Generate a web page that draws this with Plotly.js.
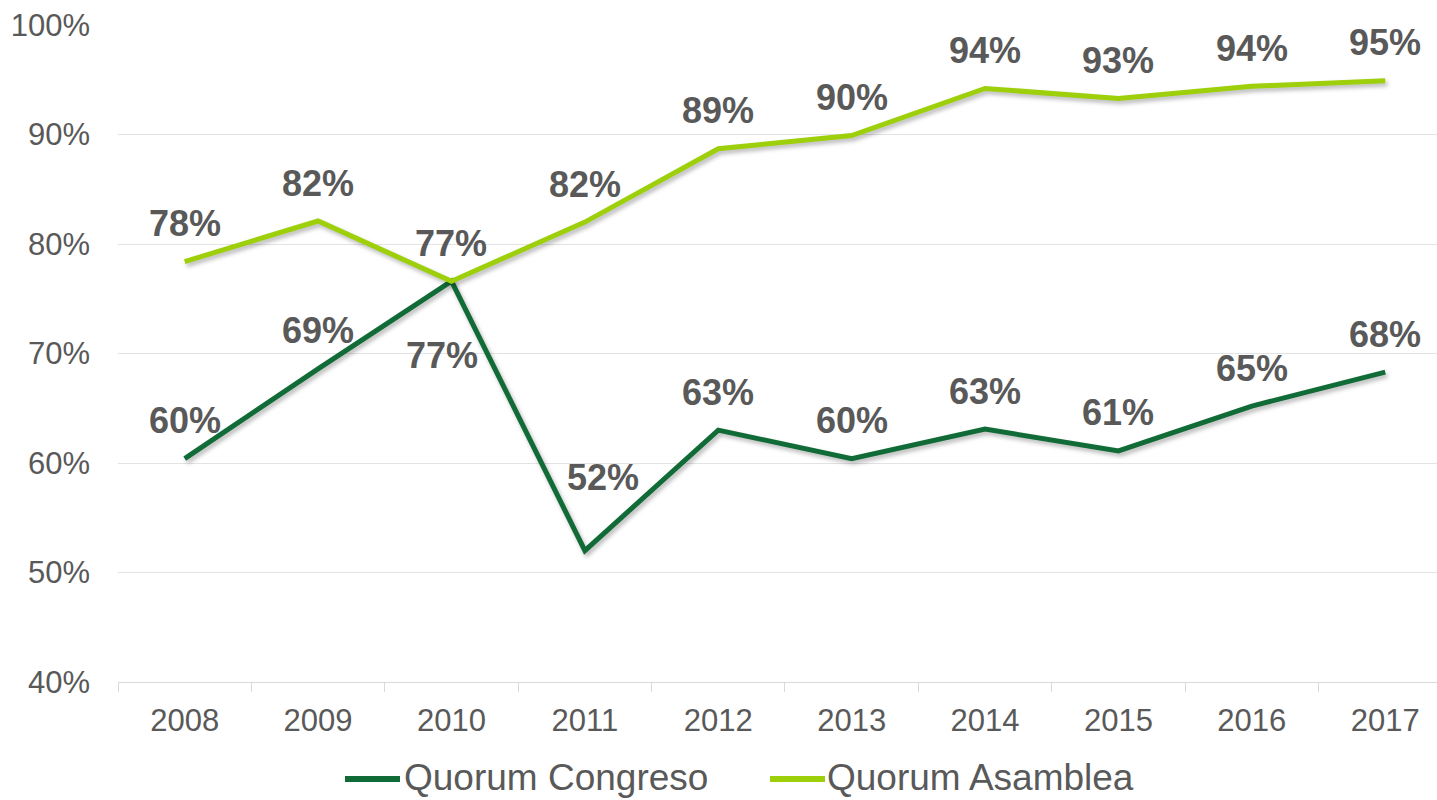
<!DOCTYPE html>
<html>
<head>
<meta charset="utf-8">
<script src="https://cdn.plot.ly/plotly-3.0.1.min.js"></script>
<style>
html,body{margin:0;padding:0;background:#fff;}
#chart{width:1437px;height:800px;}
#chart .scatterlayer .js-line{filter:drop-shadow(2px 3px 2px rgba(0,0,0,0.28));}
</style>
</head>
<body>
<div id="chart"></div>
<script>
var years = ['2008','2009','2010','2011','2012','2013','2014','2015','2016','2017'];
var congreso = [60.4, 68.6, 76.6, 52.0, 63.0, 60.4, 63.1, 61.1, 65.2, 68.3];
var asamblea = [78.4, 82.1, 76.6, 82.0, 88.7, 89.9, 94.2, 93.3, 94.4, 94.9];
var yTicks = [40, 50, 60, 70, 80, 90, 100];
var seriesNames = ['Quorum Congreso', 'Quorum Asamblea'];

var darkGreen = '#116b37';
var lightGreen = '#9dcf0a';
var textGray = '#595959';
var fontFam = '"Liberation Sans", Arial, sans-serif';

var traces = [
  {x: years, y: congreso, name: seriesNames[0], type: 'scatter', mode: 'lines',
   line: {color: darkGreen, width: 5}, hoverinfo: 'skip', showlegend: false},
  {x: years, y: asamblea, name: seriesNames[1], type: 'scatter', mode: 'lines',
   line: {color: lightGreen, width: 5}, hoverinfo: 'skip', showlegend: false}
];

// label placement overrides (style only): index -> {yshift, xshift}
var congresoLabelStyle = {2: {yshift: -74, xshift: -9}, 3: {yshift: 73, xshift: 18}};

var annotations = [];
function addLabels(vals, overrides) {
  vals.forEach(function (v, i) {
    var o = (overrides && overrides[i]) || {};
    annotations.push({
      x: i, y: v, xref: 'x', yref: 'y',
      text: '<b>' + Math.round(v) + '%</b>', showarrow: false,
      yshift: (o.yshift !== undefined ? o.yshift : 38),
      xshift: (o.xshift || 0),
      font: {family: fontFam, size: 36, color: textGray}
    });
  });
}
addLabels(congreso, congresoLabelStyle);
addLabels(asamblea, null);

// manual legend (paper coords; plot spans x 118..1437, y 25..682)
function px2xp(px) { return (px - 118) / 1319; }
function py2yp(py) { return (682 - py) / 657; }
var legendY = 777;
var legendItems = [
  {name: seriesNames[0], color: darkGreen, x0: 345, x1: 400, tx: 403},
  {name: seriesNames[1], color: lightGreen, x0: 770, x1: 825, tx: 826}
];
var shapes = [];
legendItems.forEach(function (it) {
  shapes.push({type: 'line', xref: 'paper', yref: 'paper',
    x0: px2xp(it.x0), x1: px2xp(it.x1), y0: py2yp(legendY + 2), y1: py2yp(legendY + 2),
    line: {color: it.color, width: 6}});
  annotations.push({xref: 'paper', yref: 'paper', x: px2xp(it.tx), y: py2yp(legendY),
    xanchor: 'left', yanchor: 'middle', text: it.name, showarrow: false, borderpad: 0,
    font: {family: fontFam, size: 37, color: textGray}});
});

var layout = {
  width: 1437, height: 800,
  margin: {l: 118, r: 0, t: 25, b: 118},
  paper_bgcolor: '#ffffff', plot_bgcolor: '#ffffff',
  showlegend: false,
  xaxis: {
    type: 'category', range: [-0.5, 9.388],
    showgrid: false, showline: true, linecolor: '#d9d9d9', linewidth: 1,
    ticks: 'outside', tickson: 'boundaries', ticklen: 9, tickcolor: '#d9d9d9',
    ticklabelstandoff: 11,
    tickfont: {family: fontFam, size: 31, color: textGray},
    zeroline: false, fixedrange: true
  },
  yaxis: {
    range: [40, 100], tickvals: yTicks,
    ticktext: yTicks.map(function (t) { return t + '%'; }),
    showgrid: true, gridcolor: '#e3e3e3', gridwidth: 1,
    showline: false, zeroline: false, ticks: '',
    ticklabelstandoff: 27,
    tickfont: {family: fontFam, size: 31, color: textGray},
    fixedrange: true
  },
  shapes: shapes,
  annotations: annotations
};

Plotly.newPlot('chart', traces, layout, {displayModeBar: false, staticPlot: true});
</script>
</body>
</html>
